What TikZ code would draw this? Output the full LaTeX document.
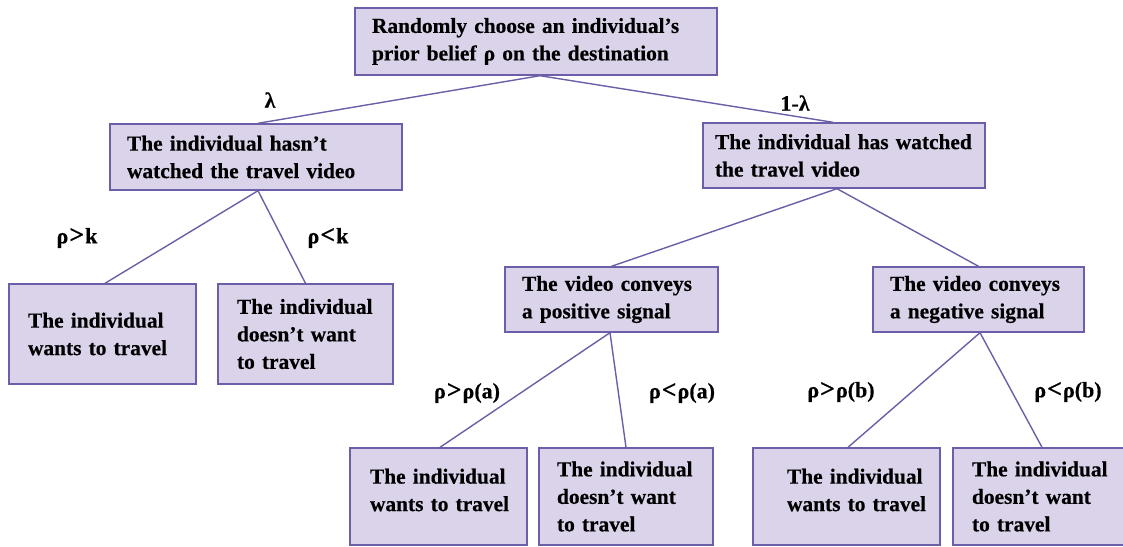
\documentclass[tikz,border=0pt]{standalone}
\usepackage{fontspec}
\setmainfont{Liberation Serif}[WordSpace=0.7, BoldFeatures={FakeBold=0.4}]
\hyphenpenalty=10000
\exhyphenpenalty=10000
\definecolor{boxfill}{RGB}{218,211,234}
\definecolor{boxline}{RGB}{108,94,168}
\tikzset{
  box/.style={draw=boxline, fill=boxfill, line width=1.4pt, rectangle, align=left,
    inner ysep=0pt, font=\fontsize{21.4}{27.5}\selectfont\bfseries, text=black},
  lbl/.style={font=\fontsize{22}{26}\selectfont\bfseries, inner sep=0pt, text=black},
  conn/.style={draw=boxline, line width=1.4pt}
}
\begin{document}
\begin{tikzpicture}[x=1pt,y=-1pt]
\useasboundingbox (0,0) rectangle (1123,546);
% level 0
\node[box, minimum width=362, minimum height=67, inner xsep=17, text width=328] (top) at (536,41.5)
  {Randomly~choose~an~individual’s\\prior~belief~ρ~on~the~destination};
% level 1
\node[box, minimum width=292, minimum height=66, inner xsep=17, text width=258] (hn) at (256,157)
  {The~individual~hasn’t\\watched~the~travel~video};
\node[box, minimum width=282, minimum height=65, inner xsep=12, text width=258] (hw) at (844,155.5)
  {The~individual~has~watched\\the~travel~video};
% level 2 left leaves
\node[box, minimum width=187, minimum height=100, inner xsep=19, text width=149] (a1) at (102.5,334)
  {The~individual\\wants~to~travel};
\node[box, minimum width=175, minimum height=100, inner xsep=19, text width=137] (a2) at (305.5,334)
  {The~individual\\doesn’t~want\\to~travel};
% level 2 signal boxes
\node[box, minimum width=213, minimum height=65, inner xsep=17, text width=179] (pos) at (611.5,299.5)
  {The~video~conveys\\a~positive~signal};
\node[box, minimum width=211, minimum height=65, inner xsep=17, text width=177] (neg) at (978.5,299.5)
  {The~video~conveys\\a~negative~signal};
% level 3 leaves
\node[box, minimum width=177, minimum height=97, inner xsep=20, text width=137] (b1) at (438.5,496.5)
  {The~individual\\wants~to~travel\par\vspace{13pt}};
\node[box, minimum width=174, minimum height=97, inner xsep=18, text width=138] (b2) at (626,496.5)
  {The~individual\\doesn’t~want\\to~travel};
\node[box, minimum width=187, minimum height=97, inner xsep=17, text width=153] (c1) at (846.5,496.5)
  {\hspace*{17pt}The~individual\\\hspace*{17pt}wants~to~travel\par\vspace{13pt}};
\node[box, minimum width=175, minimum height=97, inner xsep=19, text width=137] (c2) at (1040.5,496.5)
  {The~individual\\doesn’t~want\\to~travel};
% connectors
\draw[conn] ([xshift=4pt]top.south) -- ([xshift=2pt]hn.north);
\draw[conn] ([xshift=4pt]top.south) -- ([xshift=-11pt]hw.north);
\draw[conn] ([xshift=2pt]hn.south) -- ([xshift=2.5pt]a1.north);
\draw[conn] ([xshift=2pt]hn.south) -- (a2.north);
\draw[conn] ([xshift=-7pt]hw.south) -- (pos.north);
\draw[conn] ([xshift=-7pt]hw.south) -- (neg.north);
\draw[conn] ([xshift=-1.5pt]pos.south) -- ([xshift=1.5pt]b1.north);
\draw[conn] ([xshift=-1.5pt]pos.south) -- (b2.north);
\draw[conn] ([xshift=1.5pt]neg.south) -- ([xshift=1.5pt]c1.north);
\draw[conn] ([xshift=1.5pt]neg.south) -- ([xshift=1.5pt]c2.north);
% labels
\node[lbl] (l1) at (270,100) {λ};
\node[lbl] (l2) at (795,103) {1-λ};
\node[lbl] (l3) at (77,238) {ρ\kern1pt{\fontsize{26}{26}\selectfont>}\kern1pt k};
\node[lbl] (l4) at (328,238) {ρ\kern1pt{\fontsize{26}{26}\selectfont<}\kern1pt k};
\node[lbl] (l5) at (467,393) {ρ\kern1pt{\fontsize{26}{26}\selectfont>}\kern1pt ρ(a)};
\node[lbl] (l6) at (682,393) {ρ\kern1pt{\fontsize{26}{26}\selectfont<}\kern1pt ρ(a)};
\node[lbl] (l7) at (841,392) {ρ\kern1pt{\fontsize{26}{26}\selectfont>}\kern1pt ρ(b)};
\node[lbl] (l8) at (1068,392) {ρ\kern1pt{\fontsize{26}{26}\selectfont<}\kern1pt ρ(b)};
\end{tikzpicture}
\end{document}
